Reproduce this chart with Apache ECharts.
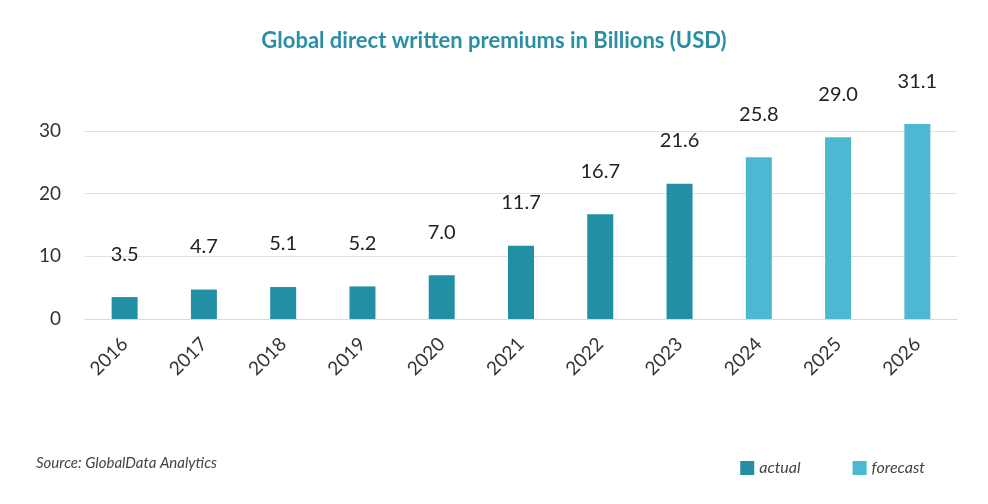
<!DOCTYPE html>
<html><head><meta charset="utf-8">
<script src="https://cdn.jsdelivr.net/npm/echarts@6/dist/echarts.min.js"></script>
<style>html,body{margin:0;padding:0;background:#fff}#c{width:988px;height:504px}</style>
</head><body><div id="c"></div>
<script>
const years = ['2016','2017','2018','2019','2020','2021','2022','2023','2024','2025','2026'];
const actual = [3.5,4.7,5.1,5.2,7.0,11.7,16.7,21.6,null,null,null];
const forecast = [null,null,null,null,null,null,null,null,25.8,29.0,31.1];
const yTicks = [0,10,20,30];
const F = 'Lato, "Open Sans", sans-serif';
const lbl = {show:true,position:'top',distance:33,fontSize:20,color:'#222',fontFamily:F,
  formatter:p=>p.value==null?'':p.value.toFixed(1)};
const chart = echarts.init(document.getElementById('c'));
chart.setOption({
  animation:false,
  title:{text:'Global direct written premiums in Billions (USD)',left:'center',top:25,
    textStyle:{color:'#2a8fa4',fontSize:22,fontWeight:'bold',fontFamily:F}},
  graphic:[{type:'text',left:36,top:456,style:{text:'Source: GlobalData Analytics',fontSize:15,fontStyle:'italic',fill:'#444',fontFamily:F}}],
  legend:{right:58,top:455,itemWidth:14,itemHeight:14,itemGap:52,icon:'rect',
    textStyle:{fontSize:16,fontStyle:'italic',color:'#444',fontFamily:F}},
  grid:{left:85,right:31,top:131,bottom:185},
  xAxis:{type:'category',data:years,axisTick:{show:false},
    axisLine:{lineStyle:{color:'#d9d9d9'}},
    axisLabel:{rotate:45,fontSize:19,color:'#333',fontFamily:F,margin:22}},
  yAxis:{type:'value',min:0,max:30,interval:10,
    axisLabel:{fontSize:19,color:'#333',fontFamily:F,margin:24},
    splitLine:{lineStyle:{color:'#e0e0e0'}}},
  series:[
    {name:'actual',type:'bar',stack:'a',data:actual,barWidth:26,clip:false,itemStyle:{color:'#238fa5'},label:lbl},
    {name:'forecast',type:'bar',stack:'a',data:forecast,barWidth:26,clip:false,itemStyle:{color:'#4db8d2'},label:lbl}
  ]
});
</script></body></html>
